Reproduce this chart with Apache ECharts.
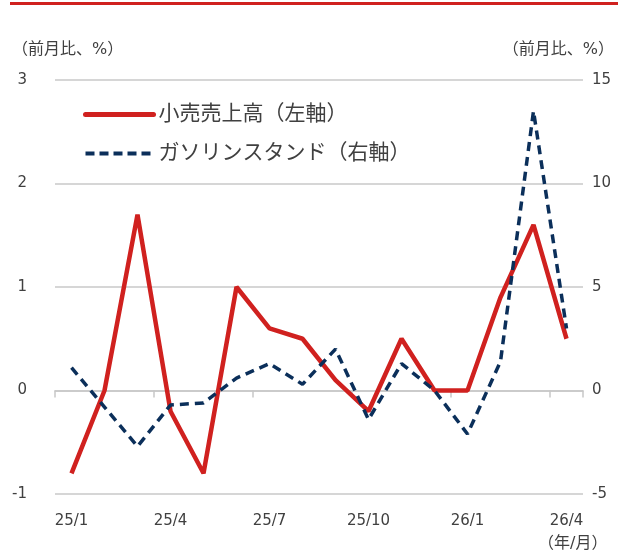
<!DOCTYPE html>
<html><head><meta charset="utf-8">
<script src="https://cdn.jsdelivr.net/npm/echarts@6/dist/echarts.min.js"></script>
<style>html,body{margin:0;padding:0;background:#fff}#c{width:624px;height:557px}</style>
</head><body><div id="c"></div>
<script>
const categories = ['25/1','25/2','25/3','25/4','25/5','25/6','25/7','25/8','25/9','25/10','25/11','25/12','26/1','26/2','26/3','26/4'];
const retailSales = [-0.8, 0.0, 1.7, -0.2, -0.8, 1.0, 0.6, 0.5, 0.1, -0.2, 0.5, 0.0, 0.0, 0.9, 1.6, 0.5];
const gasStations = [1.1, -0.8, -2.7, -0.7, -0.6, 0.6, 1.3, 0.3, 2.0, -1.4, 1.3, 0.0, -2.1, 1.4, 13.5, 3.0];
const leftTicks = {min: -1, max: 3, interval: 1};
const rightTicks = {min: -5, max: 15, interval: 5};
const seriesNames = ['小売売上高（左軸）', 'ガソリンスタンド（右軸）'];

const FONT = '"DejaVu Sans", "Noto Sans CJK JP", sans-serif';
const TXT = '#404040';
const RED = '#d0211f';
const NAVY = '#0b2f5a';
const chart = echarts.init(document.getElementById('c'), null, {renderer: 'canvas'});
chart.setOption({
  animation: false,
  textStyle: {fontFamily: FONT, color: TXT},
  graphic: [
    {type: 'rect', shape: {x: 10, y: 2, width: 608, height: 3}, style: {fill: RED}},
    {type: 'text', left: 12, top: 42, style: {text: '（前月比、%）', font: '16px ' + FONT, fill: TXT}},
    {type: 'text', right: 10, top: 42, style: {text: '（前月比、%）', font: '16px ' + FONT, fill: TXT}},
    {type: 'text', left: 538, top: 536, style: {text: '（年/月）', font: '16px ' + FONT, fill: TXT}}
  ],
  legend: {
    orient: 'vertical', left: 78, top: 99, itemWidth: 68, itemHeight: 14, itemGap: 18,
    textStyle: {fontSize: 21, color: TXT, fontFamily: FONT},
    itemStyle: {opacity: 0},
    data: [
      {name: seriesNames[0], itemStyle: {opacity: 0}, lineStyle: {color: RED, width: 5, cap: 'round'}},
      {name: seriesNames[1], itemStyle: {opacity: 0}, lineStyle: {color: NAVY, width: 4, type: [9, 5]}}
    ]
  },
  grid: {left: 55, right: 41, top: 80, bottom: 63},
  xAxis: [
    {type: 'category', data: categories, boundaryGap: true,
     axisLine: {onZero: true, lineStyle: {color: '#c8c8c8', width: 1.5}},
     axisTick: {show: true, interval: 2, length: 7, lineStyle: {color: '#c8c8c8', width: 1.5}},
     axisLabel: {show: false}},
    {type: 'category', data: categories, boundaryGap: true, position: 'bottom', offset: 0,
     axisLine: {show: false}, axisTick: {show: false},
     axisLabel: {interval: 2, margin: 20, fontSize: 15, color: TXT, fontFamily: FONT}}
  ],
  yAxis: [
    {type: 'value', min: leftTicks.min, max: leftTicks.max, interval: leftTicks.interval,
     axisLine: {show: false}, axisTick: {show: false},
     axisLabel: {margin: 28, fontSize: 15, color: TXT, fontFamily: FONT, align: 'right'},
     splitLine: {lineStyle: {color: '#c8c8c8', width: 1.5}}},
    {type: 'value', min: rightTicks.min, max: rightTicks.max, interval: rightTicks.interval,
     axisLine: {show: false}, axisTick: {show: false},
     axisLabel: {margin: 9, fontSize: 15, color: TXT, fontFamily: FONT, align: 'left'},
     splitLine: {show: false}}
  ],
  series: [
    {name: seriesNames[0], type: 'line', xAxisIndex: 0, yAxisIndex: 0, data: retailSales,
     symbol: 'none', lineStyle: {color: RED, width: 4.5}, itemStyle: {color: RED}, z: 3},
    {name: seriesNames[1], type: 'line', xAxisIndex: 0, yAxisIndex: 1, data: gasStations,
     symbol: 'none', lineStyle: {color: NAVY, width: 3.5, type: [9, 6]}, itemStyle: {color: NAVY}, z: 4}
  ]
});
</script></body></html>
